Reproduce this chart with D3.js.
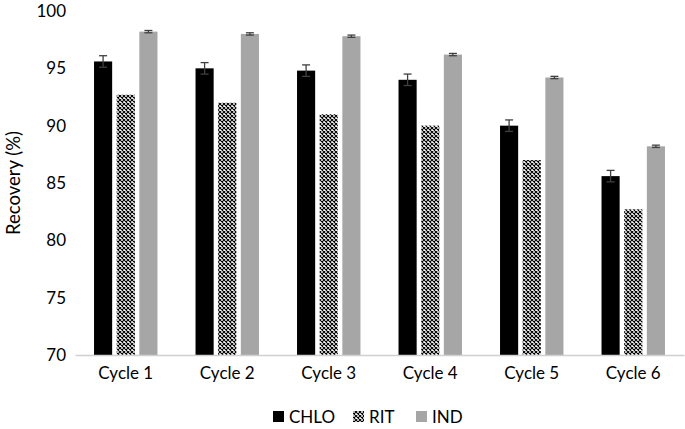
<!DOCTYPE html>
<html><head><meta charset="utf-8">
<script src="https://cdn.jsdelivr.net/npm/d3@7"></script>
<style>body{margin:0;background:#fff}svg{display:block}text{font-family:Lato,"Open Sans",sans-serif;fill:#000}</style>
</head><body><svg id="c" width="685" height="429"></svg>
<script>
const categories = ["Cycle 1","Cycle 2","Cycle 3","Cycle 4","Cycle 5","Cycle 6"];
const seriesNames = ["CHLO","RIT","IND"];
const chlo = [95.6, 95.0, 94.8, 94.0, 90.0, 85.6];
const rit  = [92.7, 92.0, 91.0, 90.0, 87.0, 82.7];
const ind  = [98.2, 98.0, 97.8, 96.2, 94.2, 88.2];
const chloErr = [0.5, 0.5, 0.5, 0.5, 0.5, 0.5];
const ritErr  = [0, 0, 0, 0, 0, 0];
const indErr  = [0.1, 0.1, 0.1, 0.1, 0.1, 0.1];
const yTicks = [70,75,80,85,90,95,100];

const svg = d3.select("#c");
const m = {l:75, r:1, t:11, b:74};
const W = 685, H = 429;
const defs = svg.append("defs");
const pat = defs.append("pattern").attr("id","hatch").attr("patternUnits","userSpaceOnUse")
  .attr("width",4).attr("height",4);
pat.append("rect").attr("width",4).attr("height",4).attr("fill","#fff");
pat.append("path").attr("d","M0,0L4,4M4,0L0,4").attr("stroke","#000").attr("stroke-width",1.1);

const x0 = d3.scaleBand().domain(categories).range([m.l, W-m.r]).paddingInner(0.375).paddingOuter(0.1875);
const x1 = d3.scaleBand().domain(seriesNames).range([0, x0.bandwidth()]).paddingInner(0.2);
const y = d3.scaleLinear().domain([70,100]).range([H-m.b, m.t]);

const data = [chlo, rit, ind];
const errs = [chloErr, ritErr, indErr];
const fills = ["#000","url(#hatch)","#a6a6a6"];

seriesNames.forEach((s,si)=>{
  const g = svg.append("g");
  g.selectAll("rect").data(categories).join("rect")
    .attr("x", c=>x0(c)+x1(s))
    .attr("y", (c,i)=>y(data[si][i]))
    .attr("width", x1.bandwidth())
    .attr("height", (c,i)=>y(70)-y(data[si][i]))
    .attr("fill", fills[si]);
  categories.forEach((c,i)=>{
    const e = errs[si][i]; if(!e) return;
    const cx = x0(c)+x1(s)+x1.bandwidth()/2;
    const eg = svg.append("g").attr("stroke","#404040").attr("stroke-width",1.3);
    eg.append("line").attr("x1",cx).attr("x2",cx).attr("y1",y(data[si][i]+e)).attr("y2",y(data[si][i]-e));
    eg.append("line").attr("x1",cx-4).attr("x2",cx+4).attr("y1",y(data[si][i]+e)).attr("y2",y(data[si][i]+e));
    eg.append("line").attr("x1",cx-4).attr("x2",cx+4).attr("y1",y(data[si][i]-e)).attr("y2",y(data[si][i]-e));
  });
});

// x axis
const xa = svg.append("g").attr("transform",`translate(0,${y(70)})`)
  .call(d3.axisBottom(x0).tickSize(0).tickPadding(12));
xa.select(".domain").attr("stroke","#d0d0d0").attr("stroke-width",1.3);
xa.selectAll("text").attr("font-size",17).attr("font-family",'Lato,sans-serif');

// y axis
const ya = svg.append("g").attr("transform",`translate(${m.l},0)`)
  .call(d3.axisLeft(y).tickValues(yTicks).tickSize(0).tickPadding(9));
ya.select(".domain").remove();
ya.selectAll("text").attr("font-size",17).attr("font-family",'Lato,sans-serif');

svg.append("text").attr("transform","translate(20,183) rotate(-90)")
  .attr("text-anchor","middle").attr("font-size",18.5).text("Recovery (%)");

// legend
const legX = [273, 353, 416];
seriesNames.forEach((s,i)=>{
  svg.append("rect").attr("x",legX[i]).attr("y",411).attr("width",11).attr("height",11).attr("fill",fills[i]);
  svg.append("text").attr("x",legX[i]+16).attr("y",422.5).attr("font-size",17).text(s);
});
</script></body></html>
